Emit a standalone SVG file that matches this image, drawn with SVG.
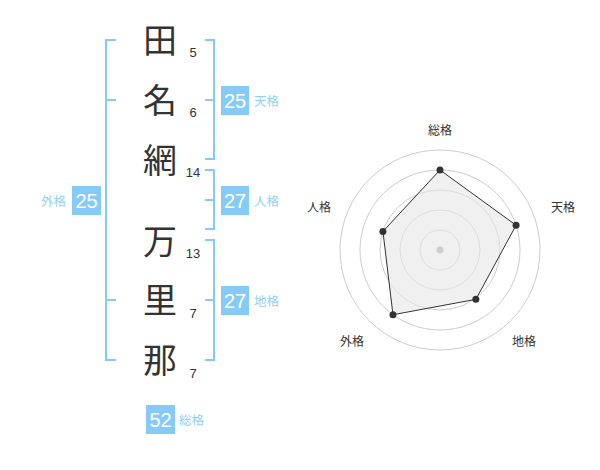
<svg xmlns="http://www.w3.org/2000/svg" width="600" height="470" viewBox="0 0 600 470">
<style>
.k{font-family:"Noto Sans CJK JP","Noto Sans CJK SC",sans-serif;font-size:34px;fill:#333;text-anchor:middle}
.n{font-family:"Liberation Sans",Arial,sans-serif;font-size:13px;fill:#333;text-anchor:middle}
.br{fill:none;stroke:#86cbf7;stroke-width:2}
.bd{fill:#86cbf7}
.bt{font-family:"Liberation Sans",Arial,sans-serif;font-size:20px;fill:#fff;text-anchor:middle}
.bl{font-family:"Noto Sans CJK JP","Noto Sans CJK SC",sans-serif;font-size:12.5px;fill:#8fcff7}
.rl{font-family:"Noto Sans CJK JP","Noto Sans CJK SC",sans-serif;font-size:12px;fill:#333;text-anchor:middle}
.ring{fill:none;stroke:#ccc;stroke-width:1}
.pt{fill:#333}
</style>
<rect width="600" height="470" fill="#fff"/>
<g id="connectors">
<path class="br" d="M116,40 H106 V360 H116 M106,100 H116 M106,300 H116"/>
<path class="br" d="M205,40 H214 V159 H205 M214,100 H205"/>
<path class="br" d="M205,170 H214 V229 H205 M214,200 H205"/>
<path class="br" d="M205,240 H214 V360 H205 M214,300 H205"/>
</g>
<g id="char1"><text class="k" x="160" y="53">田</text><text class="n" x="193" y="57">5</text></g>
<g id="char2"><text class="k" x="160" y="113">名</text><text class="n" x="193" y="117">6</text></g>
<g id="char3"><text class="k" x="160" y="173">網</text><text class="n" x="193" y="177">14</text></g>
<g id="char4"><text class="k" x="160" y="254">万</text><text class="n" x="193" y="258">13</text></g>
<g id="char5"><text class="k" x="160" y="313">里</text><text class="n" x="193" y="318">7</text></g>
<g id="char6"><text class="k" x="160" y="373">那</text><text class="n" x="193" y="378">7</text></g>
<g id="tenkaku"><rect class="bd" x="221" y="86" width="28" height="29"/><text class="bt" x="235" y="108">25</text><text class="bl" x="254" y="106">天格</text></g>
<g id="jinkaku"><rect class="bd" x="221" y="186" width="28" height="29"/><text class="bt" x="235" y="208">27</text><text class="bl" x="254" y="206">人格</text></g>
<g id="chikaku"><rect class="bd" x="221" y="286" width="28" height="29"/><text class="bt" x="235" y="308">27</text><text class="bl" x="254" y="306">地格</text></g>
<g id="gaikaku"><rect class="bd" x="72" y="186" width="29" height="29"/><text class="bt" x="86.5" y="208">25</text><text class="bl" x="41" y="206">外格</text></g>
<g id="soukaku"><rect class="bd" x="146" y="405" width="29" height="29"/><text class="bt" x="160.5" y="427">52</text><text class="bl" x="179" y="425">総格</text></g>
<g id="radar">
<circle class="ring" cx="440" cy="250" r="20"/>
<circle class="ring" cx="440" cy="250" r="40"/>
<circle class="ring" cx="440" cy="250" r="60"/>
<circle class="ring" cx="440" cy="250" r="80"/>
<circle class="ring" cx="440" cy="250" r="100"/>
<polygon points="440,170 516.08,225.28 475.86,299.35 392.98,314.72 382.94,231.46" fill="#e6e6e6" fill-opacity="0.6" stroke="#333" stroke-width="1"/>
<circle cx="440" cy="250" r="3.5" fill="#ccc"/>
<circle class="pt" cx="440" cy="170" r="3.5"/>
<circle class="pt" cx="516.08" cy="225.28" r="3.5"/>
<circle class="pt" cx="475.86" cy="299.35" r="3.5"/>
<circle class="pt" cx="392.98" cy="314.72" r="3.5"/>
<circle class="pt" cx="382.94" cy="231.46" r="3.5"/>
<text class="rl" x="440" y="135">総格</text>
<text class="rl" x="563" y="212">天格</text>
<text class="rl" x="524" y="346">地格</text>
<text class="rl" x="352" y="346">外格</text>
<text class="rl" x="319" y="212">人格</text>
</g>
</svg>
